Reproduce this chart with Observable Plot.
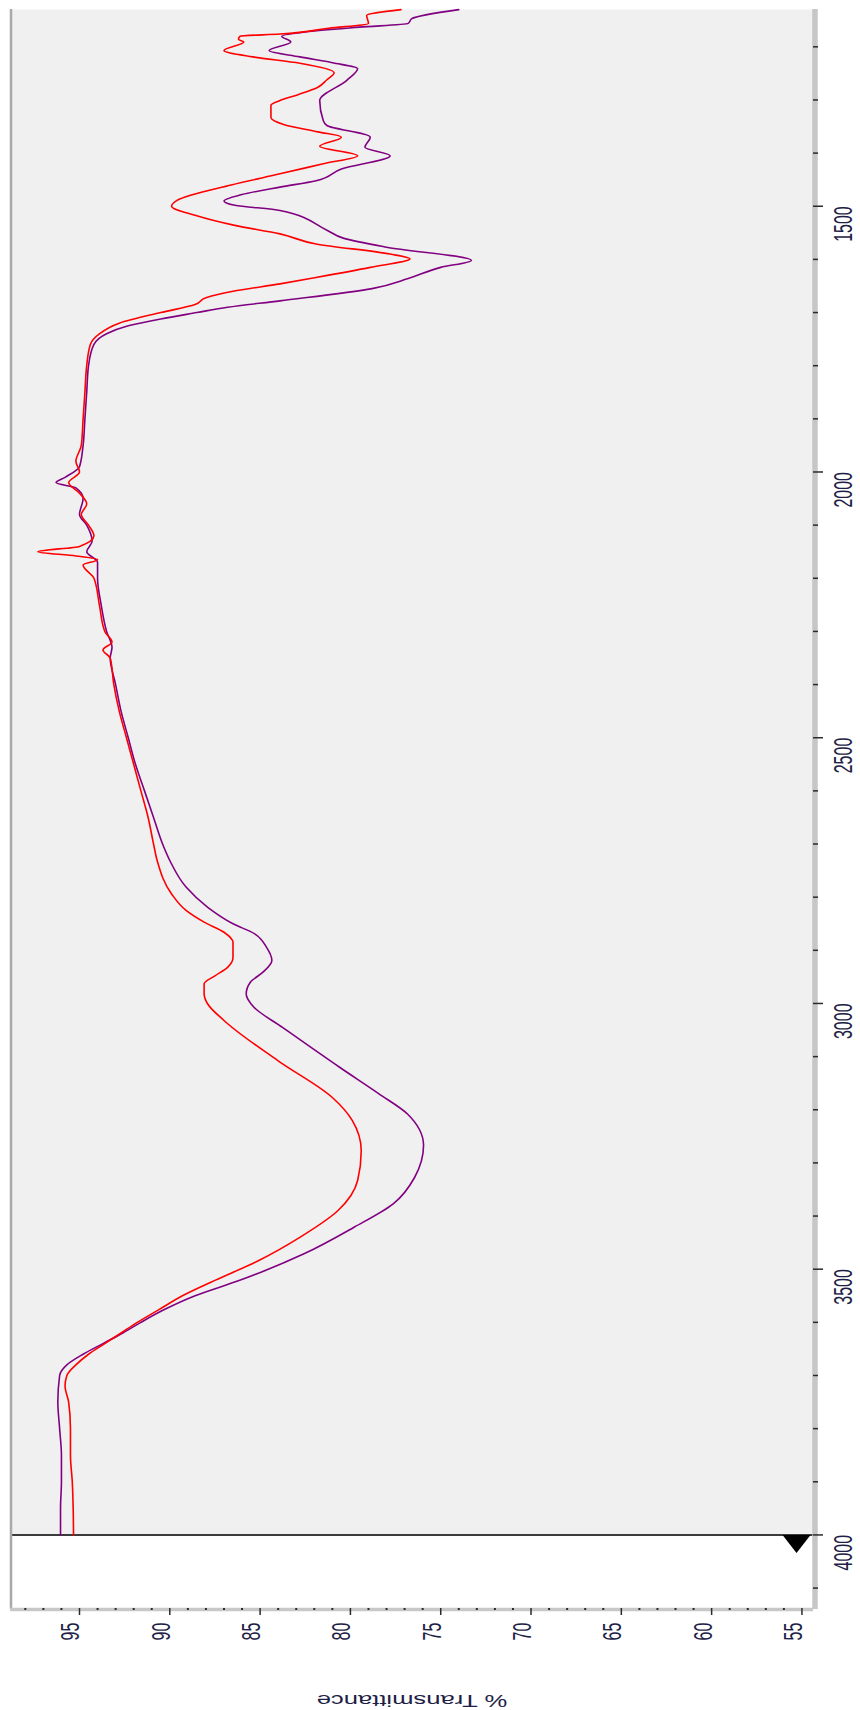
<!DOCTYPE html>
<html>
<head>
<meta charset="utf-8">
<script src="https://cdn.jsdelivr.net/npm/d3@7"></script>
<script src="https://cdn.jsdelivr.net/npm/@observablehq/plot@0.6"></script>
<style>
  html, body { margin: 0; padding: 0; background: #ffffff; }
</style>
</head>
<body>
<div id="chart"></div>
<script>
// IR spectra: [wavenumber (cm-1), % transmittance]
const redSpectrum = [
  [1130,77.2],[1141,79.1],[1156,79.0],[1165,81.2],[1176,83.9],[1180,86.1],[1186,86.2],[1191,85.9],
  [1207,87.0],[1219,85.4],[1231,82.8],[1249,80.9],[1262,81.3],[1276,81.8],[1290,82.9],[1301,83.9],
  [1310,84.4],[1333,84.4],[1346,83.7],[1360,81.8],[1370,80.5],[1387,81.7],[1405,79.6],[1420,81.5],
  [1439,83.9],[1460,86.6],[1489,89.6],[1500,89.9],[1517,88.6],[1536,86.4],[1552,83.9],[1571,81.9],
  [1590,77.8],[1599,76.7],[1615,78.9],[1634,81.9],[1646,83.9],[1660,86.5],[1672,88.0],[1685,88.6],
  [1700,90.5],[1720,92.8],[1740,93.9],[1760,94.4],[1800,94.6],[1850,94.7],[1900,94.8],[1950,94.9],
  [1980,95.2],[2000,95.0],[2020,95.6],[2040,95.0],[2060,94.6],[2080,94.9],[2100,94.5],[2120,94.2],
  [2140,95.0],[2150,97.3],[2158,95.2],[2165,94.0],[2175,94.8],[2200,94.2],[2250,93.9],[2300,93.6],
  [2320,93.2],[2335,93.7],[2350,93.3],[2400,93.1],[2450,92.8],[2500,92.4],[2550,92.0],[2600,91.6],
  [2650,91.2],[2700,90.9],[2731,90.7],[2794,89.9],[2825,89.1],[2847,88.1],[2866,87.0],[2885,86.5],
  [2913,86.5],[2932,86.8],[2948,87.5],[2963,88.1],[2982,88.1],[3001,87.9],[3032,87.0],[3108,84.0],
  [3177,81.0],[3220,79.9],[3277,79.4],[3333,79.6],[3390,80.7],[3440,82.8],[3484,85.1],[3521,87.5],
  [3550,89.3],[3576,90.6],[3600,91.8],[3620,92.7],[3640,93.6],[3660,94.5],[3680,95.2],[3700,95.7],
  [3720,95.8],[3750,95.6],[3800,95.5],[3850,95.5],[3900,95.4],[3950,95.35],[4000,95.33]
];

const purpleSpectrum = [
  [1130,74.0],[1147,76.6],[1156,76.8],[1163,79.5],[1172,82.5],[1180,83.8],[1191,83.3],[1207,84.5],
  [1219,82.8],[1230,81.0],[1241,79.6],[1263,80.2],[1301,81.7],[1339,81.5],[1348,81.3],[1370,78.9],
  [1389,79.2],[1405,77.8],[1430,80.5],[1452,81.9],[1464,83.9],[1478,86.0],[1490,87.0],[1498,86.4],
  [1508,83.9],[1545,81.3],[1560,80.4],[1577,78.0],[1602,73.3],[1615,75.0],[1636,76.8],[1655,78.8],
  [1678,83.9],[1690,86.8],[1700,88.5],[1712,90.5],[1725,92.3],[1740,93.5],[1760,94.2],[1800,94.5],
  [1850,94.6],[1900,94.7],[1950,94.8],[1990,95.0],[2010,95.8],[2020,96.3],[2030,95.2],[2050,94.8],
  [2080,95.0],[2100,94.6],[2130,94.3],[2150,94.6],[2170,94.0],[2200,94.0],[2250,93.8],[2300,93.5],
  [2330,93.2],[2350,93.3],[2400,93.0],[2450,92.7],[2500,92.3],[2550,91.9],[2600,91.4],[2650,90.9],
  [2700,90.4],[2731,90.0],[2781,89.1],[2819,87.9],[2850,86.5],[2869,85.3],[2894,84.65],[2919,84.35],
  [2941,84.84],[2960,85.54],[2982,85.77],[3007,85.34],[3045,83.76],[3120,80.6],[3170,78.42],[3208,76.84],
  [3267,75.95],[3327,76.44],[3377,77.63],[3421,79.8],[3471,82.57],[3521,86.13],[3550,88.6],[3576,90.3],
  [3600,91.6],[3620,92.6],[3640,93.7],[3660,94.8],[3680,95.7],[3700,96.1],[3750,96.2],[3800,96.1],
  [3850,96.0],[3900,96.0],[3950,96.05],[4000,96.05]
];

// Axis ticks and labels
const transmittanceTicks = [95, 90, 85, 80, 75, 70, 65, 60, 55];
const transmittanceMinor = d3.range(55, 99).filter(v => v % 5 !== 0);
const wavenumberTicks = [4000, 3500, 3000, 2500, 2000, 1500];
const wavenumberMinor = d3.range(1200, 4101, 100).filter(v => v % 500 !== 0);
const axisTitle = "% Transmittance";

// Scale extents (transmittance runs high → low left to right, wavenumber low at top)
const transmittanceDomain = [98.82, 54.36];
const wavenumberDomain = [4140.3, 1129.8];

// Start-of-scan cursor sitting on the 4000 cm-1 line
const cursor = [{wavenumber: 4000, transmittance: 55.3}];
const cursorSymbol = {
  draw(context) {
    context.moveTo(-14, 0);
    context.lineTo(14, 0);
    context.lineTo(0, 18);
    context.closePath();
  }
};

const labelColor = "#1e1e46";
const tickColor = "#2a2a2a";

const chart = Plot.plot({
  width: 860,
  height: 1710,
  marginLeft: 10,
  marginRight: 47,
  marginTop: 9,
  marginBottom: 101,
  x: {domain: transmittanceDomain, axis: null},
  y: {domain: wavenumberDomain, axis: null},
  style: {background: "#ffffff", fontFamily: "'Liberation Sans', Arial, sans-serif", overflow: "visible"},
  marks: [
    Plot.frame({fill: "#f0f0f0", stroke: null}),
    Plot.rect([0], {
      x1: () => transmittanceDomain[0], x2: () => transmittanceDomain[1],
      y1: () => 4000, y2: () => wavenumberDomain[0],
      fill: "#ffffff"
    }),
    Plot.ruleY([4000], {stroke: "#3c3c3c", strokeWidth: 2}),
    Plot.line(purpleSpectrum, {x: d => d[1], y: d => d[0], stroke: "#800080", strokeWidth: 1.6, curve: "monotone-y"}),
    Plot.line(redSpectrum, {x: d => d[1], y: d => d[0], stroke: "#ff0000", strokeWidth: 1.6, curve: "monotone-y"}),
    Plot.dot(cursor, {x: "transmittance", y: "wavenumber", symbol: cursorSymbol, fill: "#000000", stroke: null}),
    // frame borders
    Plot.ruleX([transmittanceDomain[0]], {stroke: "#a9a9a9", strokeWidth: 2.5, dx: 0.5}),
    Plot.ruleX([transmittanceDomain[1]], {stroke: "#c6c6c6", strokeWidth: 5.5, dx: 1.5}),
    Plot.ruleY([wavenumberDomain[0]], {stroke: "#c8c8c8", strokeWidth: 3.5}),
    // ticks
    Plot.axisX(transmittanceMinor, {anchor: "bottom", tickSize: 2, strokeWidth: 2, stroke: tickColor, fill: "none", label: null, dy: -1}),
    Plot.axisX(transmittanceTicks, {anchor: "bottom", tickSize: 7, strokeWidth: 1.5, stroke: tickColor, fill: "none", label: null, dy: -1}),
    Plot.axisY(wavenumberMinor, {anchor: "right", tickSize: 5, strokeWidth: 1.5, stroke: tickColor, fill: "none", label: null, dx: -1}),
    Plot.axisY(wavenumberTicks, {anchor: "right", tickSize: 10, strokeWidth: 1.5, stroke: tickColor, fill: "none", label: null, dx: -1}),
    // tick labels and title
    Plot.text(transmittanceTicks, {x: d => d, text: d => `${d}`, frameAnchor: "bottom", dy: 22, rotate: -90, fontSize: 16, fill: labelColor}),
    Plot.text(wavenumberTicks, {y: d => d, text: d => `${d}`, frameAnchor: "right", dx: 30, rotate: -90, fontSize: 16, fill: labelColor}),
    Plot.text([axisTitle], {text: d => d, frameAnchor: "bottom", dy: 85, rotate: 180, fontSize: 16, fill: labelColor})
  ]
});

// Widen the rotated labels horizontally, as the instrument printout does
d3.select(chart).selectAll("text").each(function () {
  const t = this.getAttribute("transform");
  if (t && t.includes("rotate(")) {
    this.setAttribute("transform", t.replace("rotate(", "scale(1.6,1) rotate("));
  }
});

document.getElementById("chart").appendChild(chart);
</script>
</body>
</html>
